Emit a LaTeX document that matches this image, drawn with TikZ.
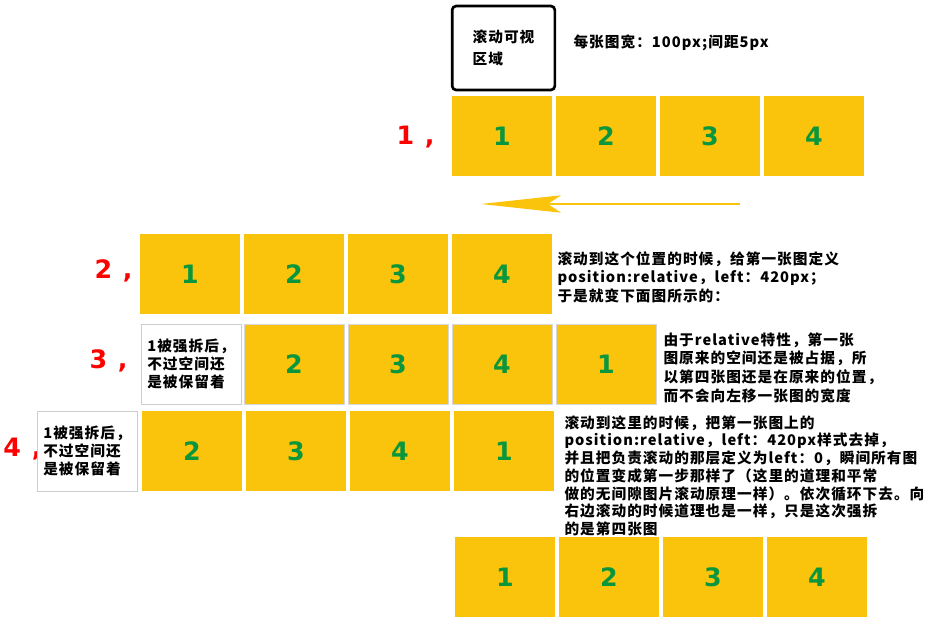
\documentclass[tikz,border=0pt]{standalone}
\usepackage{fontspec}
\setmainfont{Noto Sans CJK SC}
\newfontfamily\notefont{Noto Sans CJK SC}[LetterSpace=7]
\newfontfamily\digitfont{DejaVu Sans}
\usetikzlibrary{arrows.meta}
\definecolor{tileyellow}{RGB}{250,196,12}
\definecolor{numgreen}{RGB}{10,150,60}
\definecolor{labelred}{RGB}{255,0,0}
\newcommand{\notetext}{\notefont\fontsize{11}{14}\selectfont\bfseries}
\tikzset{every picture/.style={line width=0.75pt},
  tile/.style={fill=tileyellow, minimum width=75pt, minimum height=60pt, inner sep=0pt, text=numgreen, font=\digitfont\fontsize{19}{19}\selectfont\bfseries},
  gaptile/.style={draw={rgb, 255:red, 205; green, 205; blue, 205}, fill=white, minimum width=75pt, minimum height=60pt, inner sep=0pt, align=left, font=\notefont\fontsize{11}{13.5}\selectfont\bfseries},
  viewbox/.style={draw, line width=2pt, rounded corners=3pt, minimum width=77pt, minimum height=63pt, inner sep=0pt, align=left, font=\notefont\fontsize{11}{17}\selectfont\bfseries},
  steplabel/.style={text=labelred, anchor=base west, inner sep=0pt, font=\digitfont\fontsize{19}{19}\selectfont\bfseries},
  note/.style={anchor=north west, inner sep=0pt, align=left, font=\notetext}}

\begin{document}
\begin{tikzpicture}[x=0.75pt,y=0.75pt,yscale=-1,xscale=1]
	\path[use as bounding box] (0,0) rectangle (929,632);

	%Shape: Rectangle [scroll window]
	\node[viewbox] (view) at (503.5,48) {滚动可视\\区域};
	%Text [width]
	\node[note, anchor=west] (widthnote) at (573,43) {每张图宽：100px;间距5px};

	%Row 1
	\node[steplabel] (s1) at (396,144) {1\kern8pt,};
	\foreach \n/\x in {1/502,2/606,3/710,4/814}
		\node[tile] (a\n) at (\x,136) {\n};

	%Straight Lines [scroll direction]
	\coordinate (arrowtail) at (740,204);
	\coordinate (arrowtip) at (481,204);
	\draw [tileyellow, line width=2.2pt, -{Stealth[length=60pt,width=13pt,inset=10pt]}] (arrowtail) -- (arrowtip);

	%Row 2
	\node[steplabel] (s2) at (94,278) {2\kern8pt,};
	\foreach \n/\x in {1/190,2/294,3/398,4/502}
		\node[tile] (b\n) at (\x,274) {\n};
	\node[note] (note2) at (557,251) {滚动到这个位置的时候，给第一张图定义\\position:relative，left：420px；\\于是就变下面图所示的：};

	%Row 3
	\node[steplabel] (s3) at (89,368) {3\kern8pt,};
	\node[gaptile] (c0) at (191,364) {1被强拆后，\\不过空间还\\是被保留着};
	\foreach \n/\x in {2/294,3/398,4/502,1/606}
		\node[tile, draw={rgb, 255:red, 215; green, 215; blue, 215}] (c\n) at (\x,364) {\n};
	\node[note] (note3) at (663,332) {由于relative特性，第一张\\图原来的空间还是被占据，所\\以第四张图还是在原来的位置，\\而不会向左移一张图的宽度};

	%Row 4
	\node[steplabel] (s4) at (3,456) {4\kern8pt,};
	\node[gaptile] (d0) at (87,451) {1被强拆后，\\不过空间还\\是被保留着};
	\foreach \n/\x in {2/192,3/296,4/400,1/504}
		\node[tile] (d\n) at (\x,451) {\n};

	%Row 5
	\foreach \n/\x in {1/505,2/609,3/713,4/817}
		\node[tile] (e\n) at (\x,577) {\n};

	\node[note, font=\notefont\fontsize{11}{13.3}\selectfont\bfseries] (note4) at (564,415) {滚动到这里的时候，把第一张图上的\\position:relative，left：420px样式去掉，\\并且把负责滚动的那层定义为left：0，瞬间所有图\\的位置变成第一步那样了（这里的道理和平常\\做的无间隙图片滚动原理一样）。依次循环下去。向\\右边滚动的时候道理也是一样，只是这次强拆\\的是第四张图};

\end{tikzpicture}
\end{document}
